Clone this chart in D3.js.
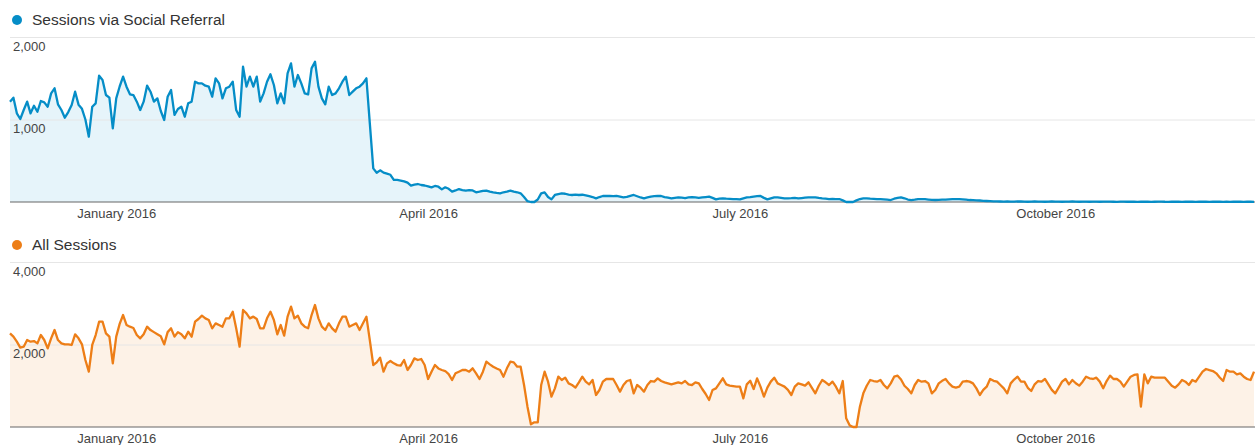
<!DOCTYPE html>
<html lang="en">
  <head>
    <meta charset="utf-8">
    <title>Sessions via Social Referral vs All Sessions</title>
    <script src="https://cdn.jsdelivr.net/npm/d3@7"></script>
    <style>
      body { margin: 0; background: #fff; }
      svg { display: block; font-family: "Liberation Sans", Arial, sans-serif; }
      .legend text { font-size: 15.5px; fill: #333; }
      .axis text { font-size: 13px; fill: #444; }
      .grid line { stroke: #e6e6e6; }
    </style>
  </head>
  <body>
    <script type="text/javascript">
      // one value per day, starting 1 Dec 2015
      var startDate = new Date(Date.UTC(2015, 11, 1));
      var monthTicks = [new Date(Date.UTC(2016, 0, 1)), new Date(Date.UTC(2016, 3, 1)),
                        new Date(Date.UTC(2016, 6, 1)), new Date(Date.UTC(2016, 9, 1))];
      var seriesNames = ["Sessions via Social Referral", "All Sessions"];
      var socialTicks = [1000, 2000];
      var allTicks = [2000, 4000];

      var socialReferral = [
        1216,1264,1075,1006,1115,1216,1075,1167,1094,1224,
        1208,1155,1317,1378,1184,1115,1022,1090,1176,1337,
        1180,1130,1000,792,1155,1196,1531,1478,1297,1264,
        893,1256,1400,1519,1398,1305,1296,1216,1115,1216,
        1410,1337,1216,1256,1103,994,1276,1357,1055,1127,
        1155,1034,1196,1216,1458,1438,1438,1410,1398,1276,
        1499,1438,1256,1378,1398,1458,1115,1034,1640,1398,
        1519,1398,1519,1216,1317,1458,1548,1418,1196,1317,
        1196,1560,1681,1398,1539,1438,1317,1305,1620,1700,
        1398,1256,1184,1398,1297,1317,1378,1458,1519,1297,
        1337,1378,1398,1438,1499,950,408,355,384,356,
        343,330,267,267,260,250,234,198,210,218,
        206,200,190,178,194,185,153,178,160,125,
        140,157,145,137,145,140,117,125,135,137,
        125,117,110,105,118,125,137,125,118,105,
        60,10,0,0,30,105,117,60,32,85,
        95,105,100,90,85,90,85,88,80,70,
        60,44,60,73,75,73,70,73,65,57,
        62,75,85,70,55,44,55,65,70,73,
        73,60,52,44,50,55,52,48,55,60,
        55,50,55,60,65,50,32,40,44,40,
        38,36,34,32,45,55,60,66,70,73,
        50,32,45,57,55,50,45,44,46,50,
        44,48,52,55,57,57,50,44,40,36,
        38,36,36,20,0,0,0,20,36,44,
        44,40,38,36,36,32,28,24,40,50,
        57,45,30,24,28,36,36,34,30,26,
        24,26,28,30,32,34,36,36,32,28,
        24,22,20,18,14,12,10,8,7,6,
        5,6,4,5,7,6,4,3,5,6,
        4,5,3,4,6,5,4,3,4,5,
        6,4,3,5,4,3,4,5,3,4,
        5,4,3,2,4,5,3,4,3,2,
        3,4,3,2,3,4,5,3,2,3,
        4,3,2,3,4,3,2,3,4,3,
        2,3,4,3,2,3,2,3,4,3,
        2,3,3,2
      ];

      var allSessions = [
        2271,2190,2068,1923,1947,2109,2068,2084,2028,2230,
        2109,1907,2149,2352,2109,2028,2004,2004,1988,2247,
        2149,2004,1624,1341,1988,2230,2553,2553,2271,2190,
        1543,2190,2500,2715,2473,2432,2400,2230,2149,2250,
        2432,2350,2300,2250,2200,2004,2300,2392,2190,2300,
        2250,2149,2311,2190,2553,2618,2699,2634,2594,2392,
        2513,2473,2432,2634,2634,2796,2392,1947,2836,2755,
        2634,2675,2618,2392,2392,2634,2796,2594,2247,2473,
        2214,2675,2917,2634,2699,2513,2432,2392,2715,2958,
        2634,2432,2352,2513,2392,2311,2513,2675,2675,2432,
        2473,2513,2352,2513,2675,2100,1503,1567,1681,1341,
        1543,1599,1543,1500,1486,1624,1382,1503,1664,1624,
        1648,1503,1164,1341,1503,1420,1382,1357,1280,1139,
        1301,1341,1382,1382,1341,1422,1301,1164,1341,1583,
        1519,1462,1420,1382,1220,1422,1583,1567,1462,1462,
        1018,493,65,113,113,1018,1341,1099,735,937,
        1220,1139,1196,1058,1018,954,1083,1220,1099,1034,
        1139,776,897,1099,1164,1164,1164,1018,857,1018,
        1115,1139,816,1018,954,857,1018,1115,1099,1180,
        1115,1083,1058,1034,1058,1083,1058,1115,1034,1018,
        1083,1058,921,800,655,897,937,1058,1180,1034,
        1002,990,978,978,695,1034,1120,920,1180,978,
        735,954,1100,1196,1058,1018,978,900,776,978,
        1058,1034,1002,1083,950,816,1000,1139,1083,1018,
        1099,978,816,1115,210,40,0,0,493,816,
        1000,1139,1115,1099,1139,1018,937,1058,1220,1244,
        1150,1000,921,816,1018,1139,1099,1115,1058,816,
        897,1058,1120,1164,1058,978,954,978,1099,1115,
        1100,1058,937,776,900,978,1164,1120,1099,1018,
        937,816,1058,1150,1220,1099,1099,950,873,1034,
        1115,1099,1164,1034,900,816,954,1099,1164,1034,
        1139,1060,1002,1099,1220,1180,1164,1196,1100,937,
        1115,1244,1164,1164,1099,978,1100,1220,1261,1277,
        493,1277,1058,1220,1196,1196,1196,1196,1099,1000,
        954,1034,1139,1099,1018,1139,1099,1220,1341,1406,
        1380,1357,1301,1200,1115,1382,1341,1341,1277,1301,
        1220,1164,1139,1341
      ];

      var w = 1255;
      var h = 445;
      var left = 10;
      var right = 1254;

      var svg = d3.select("body")
                  .append("svg")
                  .attr("width", w)
                  .attr("height", h);

      var lastDate = d3.utcDay.offset(startDate, socialReferral.length - 1);
      var xScale = d3.scaleUtc()
                     .domain([startDate, lastDate])
                     .range([left, right]);

      // panel: legend y, top gridline y, baseline y
      function drawPanel(values, name, ticks, color, fill, legendY, topY, baseY) {
        var data = values.map(function(v, i) {
          return {date: d3.utcDay.offset(startDate, i), value: v};
        });

        var yScale = d3.scaleLinear()
                       .domain([0, ticks[ticks.length - 1]])
                       .range([baseY, topY]);

        var g = svg.append("g");

        // legend
        var legend = g.append("g").attr("class", "legend");
        legend.append("circle")
              .attr("cx", 17).attr("cy", legendY)
              .attr("r", 5)
              .attr("fill", color);
        legend.append("text")
              .attr("x", 32).attr("y", legendY)
              .attr("dy", "0.35em")
              .text(name);

        var area = d3.area()
                     .x(function(d) { return xScale(d.date); })
                     .y0(baseY)
                     .y1(function(d) { return yScale(d.value); });
        var line = d3.line()
                     .x(function(d) { return xScale(d.date); })
                     .y(function(d) { return yScale(d.value); });

        // fill under the line goes first so grid and labels sit on top
        g.append("path")
         .datum(data)
         .attr("d", area)
         .attr("fill", fill);

        // gridlines + y labels
        var yAxis = d3.axisRight(yScale)
                      .tickValues(ticks)
                      .tickSize(right - left + 1)
                      .tickFormat(d3.format(","));
        var gy = g.append("g")
                  .attr("class", "axis grid")
                  .attr("transform", "translate(" + left + ",0)")
                  .call(yAxis);
        gy.select(".domain").remove();
        gy.selectAll("text")
          .attr("x", 3)
          .attr("y", 9)
          .attr("dy", "0.32em")
          .attr("text-anchor", "start");

        // baseline
        g.append("line")
         .attr("x1", left).attr("x2", w)
         .attr("y1", baseY).attr("y2", baseY)
         .attr("stroke", "#666")
         .attr("stroke-width", 1);

        g.append("path")
         .datum(data)
         .attr("d", line)
         .attr("fill", "none")
         .attr("stroke", color)
         .attr("stroke-width", 2.3)
         .attr("stroke-linejoin", "round");

        // x axis
        var xAxis = d3.axisBottom(xScale)
                      .tickValues(monthTicks)
                      .tickSize(0)
                      .tickPadding(7)
                      .tickFormat(d3.utcFormat("%B %Y"));
        var gx = g.append("g")
                  .attr("class", "axis")
                  .attr("transform", "translate(0," + baseY + ")")
                  .call(xAxis);
        gx.select(".domain").remove();
      }

      drawPanel(socialReferral, seriesNames[0], socialTicks, "#058dc7", "#e6f4fa", 20, 37, 202);
      drawPanel(allSessions, seriesNames[1], allTicks, "#ed7e17", "#fdf2e7", 245, 262, 427);
    </script>
  </body>
</html>
